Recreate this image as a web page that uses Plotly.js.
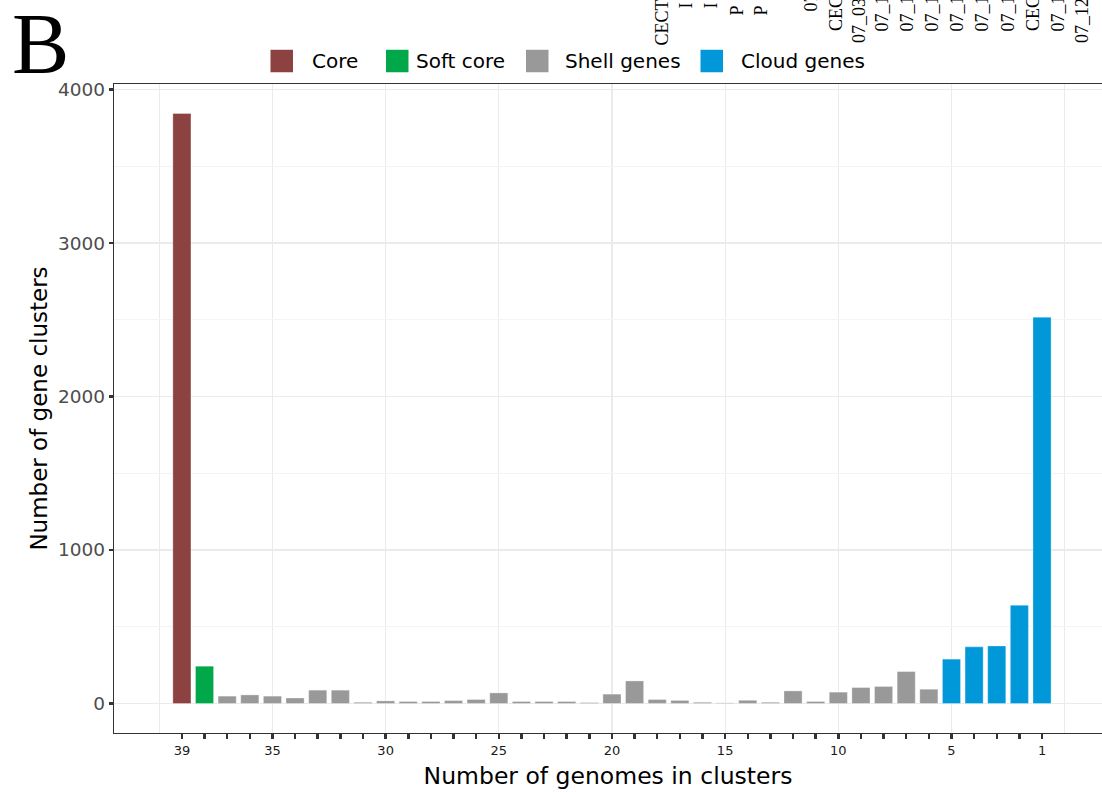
<!DOCTYPE html>
<html>
<head>
<meta charset="utf-8">
<script src="https://cdn.plot.ly/plotly-3.0.1.min.js"></script>
<style>
  html, body { margin: 0; padding: 0; background: #ffffff; overflow: hidden; }
  #chart { width: 1102px; height: 792px; }
</style>
</head>
<body>
<div id="chart"></div>
<script>
// Number of genomes sharing a gene cluster (39 = present in every genome)
const genomes = [39, 38, 37, 36, 35, 34, 33, 32, 31, 30, 29, 28, 27, 26, 25, 24, 23, 22, 21, 20,
                 19, 18, 17, 16, 15, 14, 13, 12, 11, 10, 9, 8, 7, 6, 5, 4, 3, 2, 1];
// Number of gene clusters found in exactly that many genomes
const clusterCounts = [3844, 243, 48, 56, 48, 36, 87, 87, 8, 17, 13, 13, 19, 26, 69, 13, 13, 13, 6, 61,
                       147, 26, 20, 8, 4, 21, 8, 82, 13, 74, 104, 111, 208, 93, 289, 369, 375, 640, 2517];
// Pan-genome compartment of each bar
const compartments = ['Core', 'Soft core', 'Shell genes', 'Cloud genes'];
const compartmentColors = ['#8B4241', '#00A84A', '#999999', '#0098D9'];
const compartmentOf = g => (g === 39 ? 'Core' : g === 38 ? 'Soft core' : g >= 6 ? 'Shell genes' : 'Cloud genes');
// Labelled positions on the genome axis
const labelledTicks = [39, 35, 30, 25, 20, 15, 10, 5, 1];
const yTicks = [0, 1000, 2000, 3000, 4000];

// Strain labels of the neighbouring panel that run into the top edge
const stripLabels = ['CECT', 'I', 'I', 'P', 'P', '07', 'CEC', '07_03', '07_1', '07_1', '07_1', '07_1',
                     '07_1', '07_1', 'CEC', '07_1', '07_12'];

const W = 1102, H = 792;
const M = {l: 114, r: 0, t: 83.5, b: 59};
const plotW = W - M.l - M.r, plotH = H - M.t - M.b;
const px = x => (x - M.l) / plotW;          // page pixel -> paper x
const py = y => (H - M.b - y) / plotH;      // page pixel -> paper y

const FONT = 'DejaVu Sans, Verdana, sans-serif';

const traces = compartments.map((name, i) => {
  const xs = [], ys = [];
  genomes.forEach((g, k) => {
    if (compartmentOf(g) === name) { xs.push(g); ys.push(clusterCounts[k]); }
  });
  return {
    type: 'bar', name: name, x: xs, y: ys, width: 0.8,
    marker: {color: compartmentColors[i], line: {color: 'rgba(255,255,255,0.55)', width: 0.6}},
    showlegend: false, hoverinfo: 'x+y+name'
  };
});

const maxCount = Math.max(...clusterCounts);

// Legend drawn as large square keys with labels in one row above the panel
const legendKeyX = [270.5, 386, 526, 700.5];
const legendTextX = [310, 413.5, 563, 738.5];
const legendY = 60.5, keySize = 22.5;
const shapes = compartments.map((name, i) => ({
  type: 'rect', xref: 'paper', yref: 'paper', layer: 'above',
  x0: px(legendKeyX[i]), x1: px(legendKeyX[i] + keySize),
  y0: py(legendY + keySize / 2), y1: py(legendY - keySize / 2),
  fillcolor: compartmentColors[i], line: {width: 0}
}));
const annotations = compartments.map((name, i) => ({
  xref: 'paper', yref: 'paper', x: px(legendTextX[i]), y: py(legendY),
  xanchor: 'left', yanchor: 'middle', showarrow: false, text: name,
  font: {family: FONT, size: 20, color: '#000000'}
}));

// Panel letter
annotations.push({
  xref: 'paper', yref: 'paper', x: px(10), y: py(43), xanchor: 'left', yanchor: 'middle',
  showarrow: false, text: 'B',
  font: {family: 'Liberation Serif, Times New Roman, serif', size: 86, color: '#000000'}
});

// Rotated strain labels at the top edge
const stripX = [662, 686, 711, 737, 761, 811, 836, 859, 882, 907, 932, 957, 982, 1008, 1033, 1058, 1082];
const stripBottom = [47, 10, 10, 17, 17, 13, 33, 45, 33, 33, 33, 33, 33, 33, 33, 33, 45];
stripLabels.forEach((t, i) => {
  annotations.push({
    xref: 'paper', yref: 'paper', x: px(stripX[i]), y: py(stripBottom[i]),
    xanchor: 'center', yanchor: 'bottom', showarrow: false, textangle: -90, text: t,
    font: {family: 'Liberation Serif, Times New Roman, serif', size: 18, color: '#000000'}
  });
});

const layout = {
  width: W, height: H,
  margin: M,
  paper_bgcolor: '#ffffff', plot_bgcolor: '#ffffff',
  barmode: 'overlay',
  bargap: 0,
  showlegend: false,
  font: {family: FONT},
  xaxis: {
    range: [42.0, -1.65],
    tickmode: 'array',
    tickvals: genomes,
    ticktext: genomes.map(g => (labelledTicks.includes(g) ? String(g) : '')),
    ticks: 'outside', ticklen: 5, tickwidth: 2.5, tickcolor: '#333333',
    tickfont: {family: FONT, size: 13, color: '#1a1a1a'},
    showgrid: false, zeroline: false,
    showline: true, linecolor: '#333333', linewidth: 1.3, mirror: true,
    minor: {tickmode: 'linear', tick0: 0, dtick: 5, showgrid: true, gridcolor: '#EBEBEB', gridwidth: 1.2, ticks: ''},
    title: {text: 'Number of genomes in clusters', font: {family: FONT, size: 23.5, color: '#000000'}, standoff: 10},
    automargin: false, fixedrange: true
  },
  yaxis: {
    range: [-0.05 * maxCount, 1.05 * maxCount],
    tickmode: 'array', tickvals: yTicks,
    ticks: 'outside', ticklen: 4, tickwidth: 2.5, tickcolor: '#333333',
    tickfont: {family: FONT, size: 18.5, color: '#4D4D4D'},
    showgrid: true, gridcolor: '#EBEBEB', gridwidth: 1.3, zeroline: false,
    showline: true, linecolor: '#333333', linewidth: 1.3,
    minor: {tickmode: 'linear', tick0: 500, dtick: 1000, showgrid: true, gridcolor: '#F4F4F4', gridwidth: 1, ticks: ''},
    title: {text: 'Number of gene clusters', font: {family: FONT, size: 23, color: '#000000'}, standoff: 4},
    automargin: false, fixedrange: true
  },
  shapes: shapes,
  annotations: annotations
};

Plotly.newPlot('chart', traces, layout, {displayModeBar: false, staticPlot: true});
</script>
</body>
</html>
